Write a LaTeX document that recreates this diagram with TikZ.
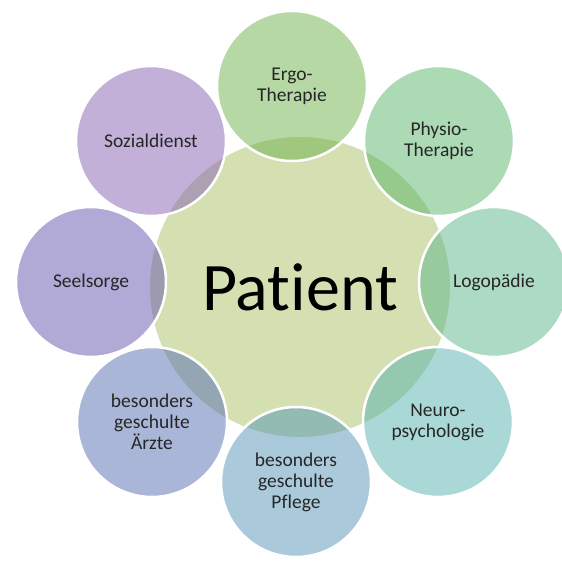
\documentclass[tikz,border=0pt]{standalone}
\usepackage{fontspec}
\setmainfont[Ligatures={NoCommon}]{Carlito}

% fill colours (drawn at half opacity)
\definecolor{centerfill}{RGB}{213,224,178}
\definecolor{ergofill}{RGB}{107,177,75}
\definecolor{physiofill}{RGB}{89,181,105}
\definecolor{logofill}{RGB}{91,181,137}
\definecolor{neurofill}{RGB}{85,177,173}
\definecolor{pflegefill}{RGB}{85,149,183}
\definecolor{aerztefill}{RGB}{85,109,177}
\definecolor{seelfill}{RGB}{101,85,173}
\definecolor{sozialfill}{RGB}{133,97,179}
\definecolor{labeltext}{RGB}{38,38,38}

\tikzset{
  hub/.style={circle, fill=centerfill, minimum size=300pt, inner sep=0pt,
    text=black, font=\fontsize{68}{80}\selectfont},
  member/.style={circle, draw=white, line width=2.5pt, fill=#1, fill opacity=0.5,
    text opacity=1, minimum size=150pt, inner sep=0pt, align=center,
    text=labeltext, font=\fontsize{19.5}{21}\selectfont}
}

\begin{document}
\begin{tikzpicture}[x=1pt, y=1pt]
  \useasboundingbox (0,0) rectangle (562,560);
  \clip (0,0) rectangle (562,560);

  \node[hub] (patient) at (300,273) {Patient};

  \node[member=ergofill] (ergo) at (292,474) {Ergo-\\Therapie};
  \node[member=physiofill] (physio) at (439,419) {Physio-\\Therapie};
  \node[member=logofill] (logo) at (494,278) {Logopädie};
  \node[member=neurofill] (neuro) at (438,138) {Neuro-\\psychologie};
  \node[member=pflegefill] (pflege) at (296,78) {besonders\\geschulte\\Pflege};
  \node[member=aerztefill] (aerzte) at (152,138) {besonders\\geschulte\\Ärzte};
  \node[member=seelfill] (seelsorge) at (91,278) {Seelsorge};
  \node[member=sozialfill] (sozial) at (151,419) {Sozialdienst};
\end{tikzpicture}
\end{document}
